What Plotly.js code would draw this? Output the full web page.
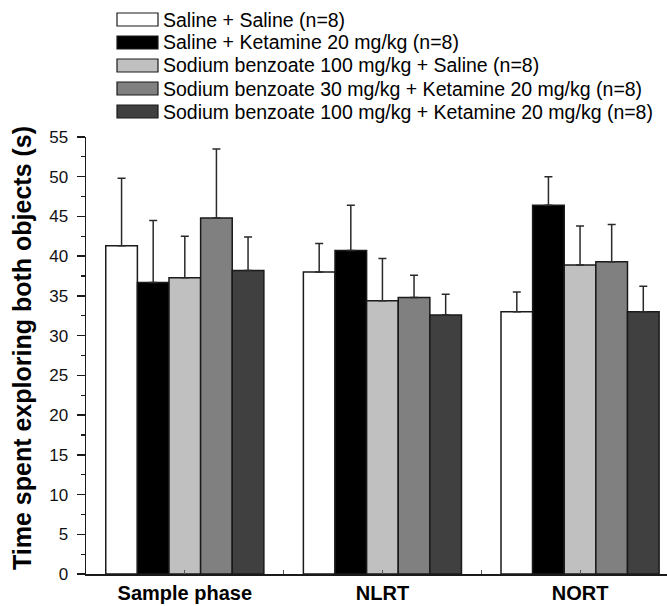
<!DOCTYPE html>
<html>
<head>
<meta charset="utf-8">
<script src="https://cdn.plot.ly/plotly-3.0.1.min.js"></script>
<style>
  html, body { margin: 0; padding: 0; background: #ffffff; }
  #chart { width: 667px; height: 606px; }
</style>
</head>
<body>
<div id="chart"></div>
<script>
// Test phases along the x axis
const phases = ['Sample phase', 'NLRT', 'NORT'];

// Treatment groups (legend order)
const groups = [
  'Saline + Saline (n=8)',
  'Saline + Ketamine 20 mg/kg (n=8)',
  'Sodium benzoate 100 mg/kg + Saline (n=8)',
  'Sodium benzoate 30 mg/kg + Ketamine 20 mg/kg (n=8)',
  'Sodium benzoate 100 mg/kg + Ketamine 20 mg/kg (n=8)'
];

// Mean exploration time (s), one array per group, in phase order
const salSal      = [41.3, 38.0, 33.0];
const salKet      = [36.7, 40.7, 46.4];
const sb100Sal    = [37.3, 34.4, 38.9];
const sb30Ket     = [44.8, 34.8, 39.3];
const sb100Ket    = [38.2, 32.6, 33.0];

// SEM (s), upper error bars only
const salSalErr   = [8.5, 3.6, 2.5];
const salKetErr   = [7.8, 5.7, 3.6];
const sb100SalErr = [5.2, 5.3, 4.9];
const sb30KetErr  = [8.7, 2.8, 4.7];
const sb100KetErr = [4.2, 2.6, 3.2];

const yTitle = 'Time spent exploring both objects (s)';

const means = [salSal, salKet, sb100Sal, sb30Ket, sb100Ket];
const errs  = [salSalErr, salKetErr, sb100SalErr, sb30KetErr, sb100KetErr];
const fills = ['#ffffff', '#000000', '#c0c0c0', '#808080', '#404040'];

const W = 667, H = 606;
const M = { l: 86, r: 0, t: 137, b: 32 };
const plotW = W - M.l - M.r, plotH = H - M.t - M.b;
// pixel -> paper coordinate helpers for hand-placed legend and axis title
const px2x = px => (px - M.l) / plotW;
const px2y = py => (H - M.b - py) / plotH;

const xIdx = phases.map((_, i) => i);
const FONT = 'Liberation Sans, Arial, sans-serif';

const traces = groups.map((g, k) => ({
  type: 'bar',
  name: g,
  x: xIdx,
  y: means[k],
  marker: { color: fills[k], line: { color: '#1a1a1a', width: 1.5 } },
  error_y: {
    type: 'data', symmetric: false,
    array: errs[k], arrayminus: errs[k].map(() => 0),
    color: '#2a2a2a', thickness: 1.5, width: 4
  },
  showlegend: false,
  hoverinfo: 'y'
}));

// Legend: swatch boxes + labels
const shapes = [];
const annotations = [];
groups.forEach((g, k) => {
  const cy = 19.5 + 23 * k;
  shapes.push({
    type: 'rect', xref: 'paper', yref: 'paper',
    x0: px2x(117), x1: px2x(158), y0: px2y(cy - 6.5), y1: px2y(cy + 6.5),
    fillcolor: fills[k], line: { color: '#1a1a1a', width: 1.2 }
  });
  annotations.push({
    xref: 'paper', yref: 'paper', x: px2x(161), y: px2y(cy),
    xanchor: 'left', yanchor: 'middle', showarrow: false,
    text: g, font: { family: FONT, size: 19.5, color: '#000' }
  });
});

// Vertical y-axis title
annotations.push({
  xref: 'paper', yref: 'paper', x: px2x(22), y: px2y(348),
  xanchor: 'center', yanchor: 'middle', showarrow: false, textangle: -90,
  text: yTitle, font: { family: FONT, size: 25, weight: 'bold', color: '#000' }
});

const layout = {
  width: W, height: H,
  margin: M,
  paper_bgcolor: '#ffffff', plot_bgcolor: 'rgba(0,0,0,0)',
  barmode: 'group', bargap: 0.2, bargroupgap: 0,
  showlegend: false,
  font: { family: FONT, color: '#000' },
  xaxis: {
    type: 'linear', range: [-0.5, 2.44],
    tickmode: 'array', tickvals: xIdx, ticktext: phases,
    ticks: 'inside', ticklen: 4, tickwidth: 1, tickcolor: '#555',
    minor: { tickmode: 'linear', tick0: -0.5, dtick: 1, ticks: 'inside', ticklen: 4, tickwidth: 1, tickcolor: '#555' },
    showline: true, linecolor: '#1a1a1a', linewidth: 1.5,
    showgrid: false, zeroline: false,
    tickfont: { family: FONT, size: 20, weight: 'bold', color: '#000' },
    fixedrange: true
  },
  yaxis: {
    range: [0, 55], dtick: 5, tick0: 0,
    ticks: 'outside', ticklen: 8, tickwidth: 1.5, tickcolor: '#1a1a1a',
    minor: { dtick: 2.5, ticks: 'outside', ticklen: 4, tickwidth: 1.2, tickcolor: '#1a1a1a' },
    showline: true, linecolor: '#1a1a1a', linewidth: 1.5,
    showgrid: false, zeroline: false,
    tickfont: { family: FONT, size: 17, color: '#111' },
    ticklabelstandoff: 5,
    fixedrange: true
  },
  shapes: shapes,
  annotations: annotations
};

Plotly.newPlot('chart', traces, layout, { displayModeBar: false, staticPlot: true });
</script>
</body>
</html>
